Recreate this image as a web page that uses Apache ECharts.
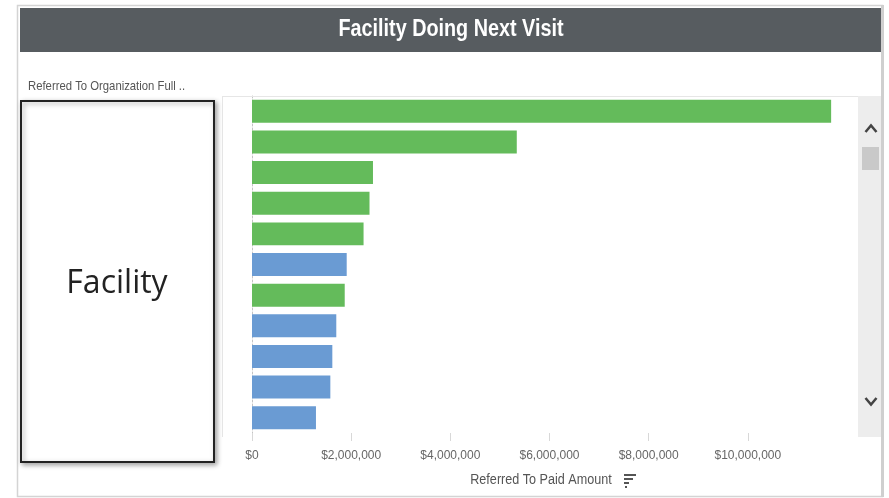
<!DOCTYPE html>
<html>
<head>
<meta charset="utf-8">
<title>Facility Doing Next Visit</title>
<script src="https://cdn.jsdelivr.net/npm/echarts@6/dist/echarts.min.js"></script>
<style>
  html, body { margin: 0; padding: 0; background: #ffffff; }
  #chart { width: 889px; height: 498px; }
</style>
</head>
<body>
<div id="chart"></div>
<script>
// Facilities ranked by referred-to paid amount (USD)
var facilities = ['F01', 'F02', 'F03', 'F04', 'F05', 'F06', 'F07', 'F08', 'F09', 'F10', 'F11'];
var greenAmounts = [11680000, 5340000, 2440000, 2370000, 2250000, '-', 1870000, '-', '-', '-', '-'];
var blueAmounts  = ['-', '-', '-', '-', '-', 1910000, '-', 1700000, 1620000, 1580000, 1290000];
var amountTicks = [0, 2000000, 4000000, 6000000, 8000000, 10000000, 12000000];

var titleText = 'Facility Doing Next Visit';
var fieldLabel = 'Referred To Organization Full ..';
var axisTitle = 'Referred To Paid Amount';
var boxLabel = 'Facility';

var narrow = '"Liberation Sans Narrow", "Arial Narrow", "Liberation Sans", sans-serif';

function money(v) {
  return '$' + String(v).replace(/\B(?=(\d{3})+(?!\d))/g, ',');
}

var chart = echarts.init(document.getElementById('chart'), null, { renderer: 'canvas' });

var option = {
  backgroundColor: '#ffffff',
  animation: false,
  grid: { left: 252, right: 42, top: 96, bottom: 65, containLabel: false },
  xAxis: {
    type: 'value',
    min: amountTicks[0],
    max: amountTicks[amountTicks.length - 1],
    interval: amountTicks[1] - amountTicks[0],
    axisLine: { show: false },
    axisTick: { show: true, length: 8, lineStyle: { color: '#d8d8d8', width: 1 } },
    splitLine: { show: false },
    axisLabel: {
      margin: 17,
      color: '#666666',
      fontFamily: narrow,
      fontSize: 12,
      showMaxLabel: false,
      formatter: function (v) { return v >= amountTicks[amountTicks.length - 1] ? '' : money(v); }
    }
  },
  yAxis: {
    type: 'category',
    data: facilities,
    inverse: true,
    axisLine: { show: true, lineStyle: { color: '#c4c4c4', type: [2, 2], width: 1 } },
    axisTick: { show: false },
    axisLabel: { show: false },
    splitLine: { show: false }
  },
  series: [
    {
      name: 'green',
      type: 'bar',
      stack: 'amount',
      data: greenAmounts,
      barCategoryGap: '25%',
      itemStyle: { color: '#64bb5b' }
    },
    {
      name: 'blue',
      type: 'bar',
      stack: 'amount',
      data: blueAmounts,
      barCategoryGap: '25%',
      itemStyle: { color: '#6a9bd3' }
    }
  ],
  graphic: [
    // panel frame
    { type: 'rect', shape: { x: 17.5, y: 5.5, width: 865, height: 491 }, style: { fill: 'none', stroke: '#d4d4d4', lineWidth: 1.5 }, z: 1 },
    { type: 'rect', shape: { x: 881, y: 5, width: 3, height: 492 }, style: { fill: '#cfcfcf' }, z: 1 },
    // header bar
    { type: 'rect', shape: { x: 20, y: 8, width: 861, height: 44 }, style: { fill: '#575c60' }, z: 2 },
    { type: 'text', x: 451, y: 30, scaleX: 0.86, style: { text: titleText, fill: '#ffffff', font: 'bold 23px ' + narrow, textAlign: 'center', textVerticalAlign: 'middle' }, z: 3 },
    // field caption
    { type: 'text', x: 28, y: 86, scaleX: 0.87, style: { text: fieldLabel, fill: '#555555', font: '13px ' + narrow, textAlign: 'left', textVerticalAlign: 'middle' }, z: 3 },
    // plot frame
    { type: 'line', shape: { x1: 222, y1: 96.5, x2: 858, y2: 96.5 }, style: { stroke: '#e6e6e6', lineWidth: 1 }, z: 1 },
    { type: 'line', shape: { x1: 222.5, y1: 96, x2: 222.5, y2: 437 }, style: { stroke: '#e6e6e6', lineWidth: 1 }, z: 1 },
    // scrollbar
    { type: 'rect', shape: { x: 858, y: 96, width: 23, height: 341 }, style: { fill: '#ededed' }, z: 2 },
    { type: 'rect', shape: { x: 862, y: 147, width: 17, height: 23 }, style: { fill: '#c9c9c9' }, z: 3 },
    { type: 'polyline', shape: { points: [[865.5, 132], [871, 125.5], [876.5, 132]] }, style: { stroke: '#444444', lineWidth: 2.5, fill: 'none' }, z: 3 },
    { type: 'polyline', shape: { points: [[865.5, 398], [871, 404.5], [876.5, 398]] }, style: { stroke: '#444444', lineWidth: 2.5, fill: 'none' }, z: 3 },
    // axis title and sort marker
    { type: 'text', x: 541, y: 480, scaleX: 0.9, style: { text: axisTitle, fill: '#555555', font: '14px ' + narrow, textAlign: 'center', textVerticalAlign: 'middle' }, z: 3 },
    { type: 'rect', shape: { x: 624, y: 474, width: 12, height: 2 }, style: { fill: '#555555' }, z: 3 },
    { type: 'rect', shape: { x: 624, y: 478, width: 9, height: 2 }, style: { fill: '#555555' }, z: 3 },
    { type: 'rect', shape: { x: 624, y: 482, width: 5, height: 2 }, style: { fill: '#555555' }, z: 3 },
    { type: 'rect', shape: { x: 625, y: 486, width: 2, height: 2 }, style: { fill: '#555555' }, z: 3 },
    // facility label box over the category names
    { type: 'rect', shape: { x: 21, y: 101, width: 193, height: 361 },
      style: { fill: '#ffffff', stroke: '#222222', lineWidth: 2, shadowBlur: 5, shadowOffsetX: 2, shadowOffsetY: 2, shadowColor: 'rgba(0,0,0,0.35)' }, z: 10 },
    { type: 'text', x: 117, y: 284, style: { text: boxLabel, fill: '#222222', font: '32px "Open Sans", "Noto Sans", sans-serif', textAlign: 'center', textVerticalAlign: 'middle' }, z: 11 }
  ]
};

chart.setOption(option);
</script>
</body>
</html>
